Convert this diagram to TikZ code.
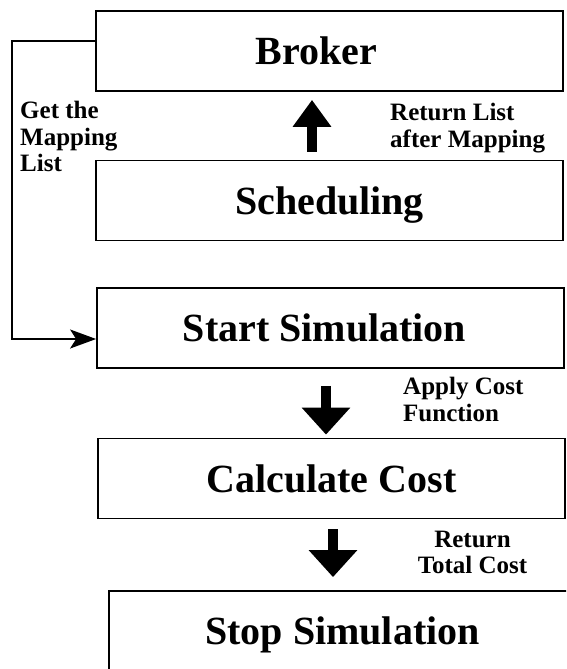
\documentclass[tikz,border=0pt]{standalone}
\usepackage{fontspec}
\setmainfont{Liberation Serif}
\usetikzlibrary{arrows.meta}

\begin{document}
\begin{tikzpicture}[x=1pt,y=-1pt,
    box/.style={draw,line width=1.8pt,minimum width=467pt,minimum height=80pt,inner sep=0pt,
        text height=27pt,text depth=0pt,font=\fontsize{40pt}{44pt}\selectfont\bfseries},
    note/.style={inner sep=0pt,align=left,font=\fontsize{25pt}{26.5pt}\selectfont\bfseries},
    bigarrow/.style={line width=10pt,-{Triangle[width=#1,length=27pt]}},
    bigarrow/.default=47pt,
    link/.style={line width=1.8pt,-{Stealth[length=26pt,width=19pt,inset=6pt]}}]
    \useasboundingbox (0,0) rectangle (566,669);
    \clip (0,0) rectangle (566,669);

    \node[box] (broker) at (329.5,51) {Broker\kern26pt};
    \node[box] (sched) at (329.5,200.5) {Scheduling};
    \node[box] (start) at (330.5,328) {Start Simulation\kern12pt};
    \node[box] (calc) at (331.5,478.5) {Calculate Cost};
    \node[box] (stop) at (342.5,631) {Stop Simulation};

    \node[note,anchor=north west] (getlist) at (20,101) {Get the\\Mapping\\List};
    \node[note,anchor=north west] (retlist) at (390,103) {Return List\\after Mapping};
    \node[note,anchor=north west] (costfn) at (403,377) {Apply Cost\\Function};
    \node[note,anchor=north,align=center] (totcost) at (472.5,530.5) {Return\\Total Cost};

    \draw[bigarrow=37pt,shorten <=8pt,shorten >=8pt] ([xshift=-17.5pt]sched.north) -- ([xshift=-17.5pt]broker.south);
    \draw[bigarrow,shorten <=17pt,shorten >=3pt] ([xshift=-4.5pt]start.south) -- ([xshift=-5.5pt]calc.north);
    \draw[bigarrow,shorten <=10pt,shorten >=13pt] ([xshift=1.5pt]calc.south) -- ([xshift=-9.5pt]stop.north);

    \draw[link] ([yshift=10pt]broker.west) -- ++(-83,0) |- ([yshift=-11pt]start.west);
\end{tikzpicture}
\end{document}
